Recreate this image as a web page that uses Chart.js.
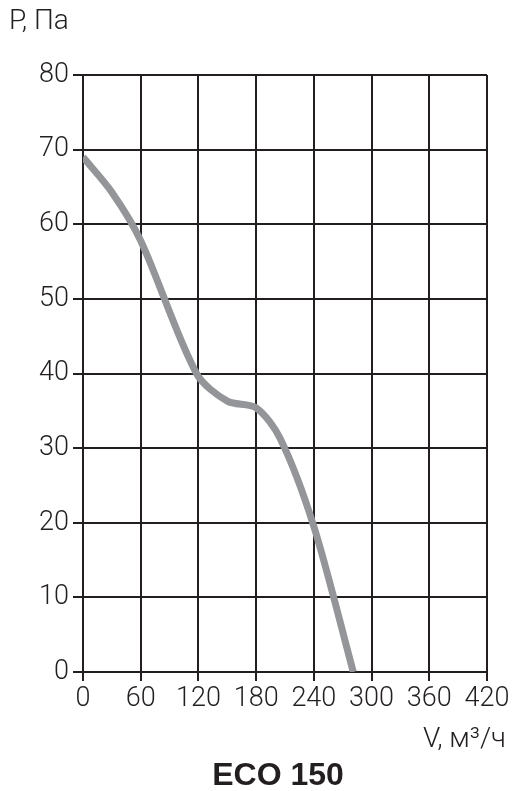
<!DOCTYPE html>
<html lang="ru">
<head>
    <meta charset="UTF-8">
    <title>ECO 150</title>
    <script src="https://cdn.jsdelivr.net/npm/chart.js"></script>
    <style>
        body { margin: 0; background-color: white; }
        #wrap { width: 517px; height: 791px; }
    </style>
</head>
<body>
    <div id="wrap">
        <canvas id="fanCurve" width="517" height="791"></canvas>
    </div>

    <script>
        // Curve: flow V (m3/h) vs pressure P (Pa)
        const flow = [0, 30, 60, 118, 150, 180, 205, 240, 281];
        const pressure = [69, 64.3, 57.8, 40, 36.3, 35.4, 31.3, 19.5, 0];

        const xTicks = [0, 60, 120, 180, 240, 300, 360, 420];
        const yTicks = [0, 10, 20, 30, 40, 50, 60, 70, 80];

        const yTitle = 'P, Па';
        const xTitle = 'V, м³/ч';
        const chartTitle = 'ECO 150';

        const gridColor = '#231f20';
        const tickFont = { family: 'Roboto', size: 27, weight: 300 };

        // texts around the plot
        const labelsPlugin = {
            id: 'labels',
            afterDraw(chart) {
                const ctx = chart.ctx;
                ctx.save();
                ctx.fillStyle = gridColor;
                ctx.textBaseline = 'middle';
                ctx.font = '300 28px Roboto';
                ctx.textAlign = 'left';
                ctx.fillText(yTitle, 9, 22);
                ctx.textAlign = 'right';
                ctx.fillText(xTitle, 506, 740);
                ctx.font = 'bold 32px "Liberation Sans"';
                ctx.textAlign = 'center';
                ctx.fillText(chartTitle, 278, 776);
                ctx.restore();
            }
        };

        const ctx = document.getElementById('fanCurve').getContext('2d');
        new Chart(ctx, {
            type: 'scatter',
            data: {
                datasets: [{
                    data: flow.map((v, i) => ({ x: v, y: pressure[i] })),
                    showLine: true,
                    borderColor: '#939598',
                    borderWidth: 7,
                    pointRadius: 0,
                    tension: 0.3,
                    borderCapStyle: 'butt'
                }]
            },
            options: {
                responsive: false,
                animation: false,
                layout: { padding: { top: 75, right: 30, left: 0, bottom: 0 } },
                plugins: {
                    legend: { display: false },
                    tooltip: { enabled: false }
                },
                scales: {
                    x: {
                        type: 'linear',
                        min: 0,
                        max: 420,
                        afterBuildTicks: s => { s.ticks = xTicks.map(v => ({ value: v })); },
                        afterFit: s => { s.height = 119; },
                        grid: { color: gridColor, lineWidth: 2, tickLength: 9, tickColor: gridColor },
                        border: { color: gridColor, width: 2 },
                        ticks: { color: gridColor, font: tickFont, padding: 2, maxRotation: 0 }
                    },
                    y: {
                        type: 'linear',
                        min: 0,
                        max: 80,
                        afterBuildTicks: s => { s.ticks = yTicks.map(v => ({ value: v })); },
                        afterFit: s => { s.width = 83; },
                        grid: { color: gridColor, lineWidth: 2, tickLength: 10, tickColor: gridColor },
                        border: { color: gridColor, width: 2 },
                        ticks: { color: gridColor, font: tickFont, padding: 4 }
                    }
                }
            },
            plugins: [labelsPlugin]
        });
    </script>
</body>
</html>
